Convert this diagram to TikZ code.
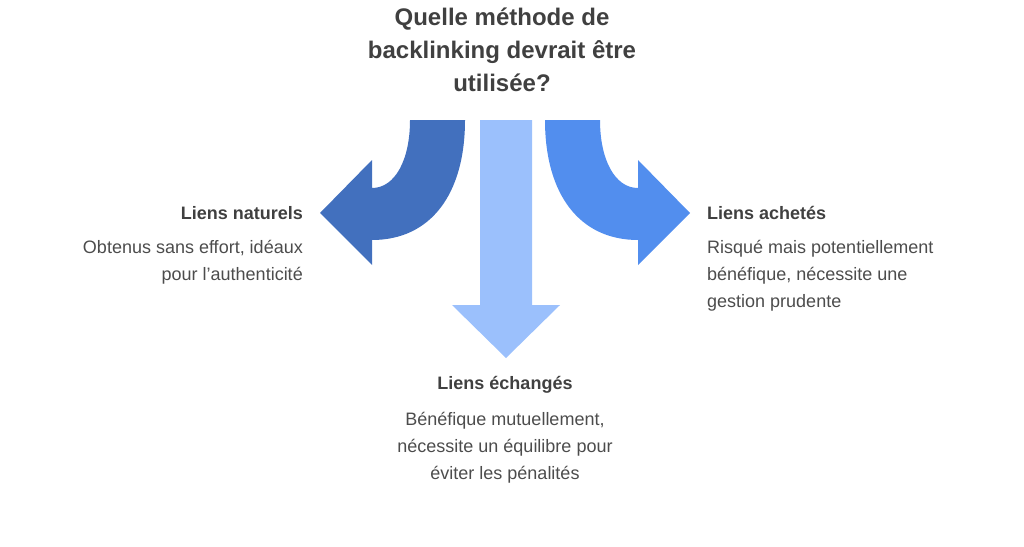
\documentclass[tikz,border=0pt]{standalone}
\usepackage{fontspec}
\setmainfont{Liberation Sans}
\begin{document}
\begin{tikzpicture}[x=1pt,y=-1pt,
  ttl/.style={font=\fontsize{24}{33}\selectfont\bfseries,text=black!75,align=center,inner sep=0},
  hd/.style={font=\fontsize{18}{27}\selectfont\bfseries,text=black!75,inner sep=0},
  ds/.style={font=\fontsize{18}{27}\selectfont,text=black!70,inner sep=0}]
\definecolor{dk}{RGB}{66,112,190}
\definecolor{br}{RGB}{82,142,238}
\definecolor{lt}{RGB}{155,192,252}
\useasboundingbox (0,0) rectangle (1024,546);
\fill[dk] (410,120) -- (465,120) .. controls (465,195) and (430,240) .. (372,240) -- (372,265) -- (320,213) -- (372,160) -- (372,188) .. controls (395,188) and (410,160) .. (410,120) -- cycle;
\fill[br] (600,120) -- (545,120) .. controls (545,195) and (580,240) .. (638,240) -- (638,265) -- (690,213) -- (638,160) -- (638,188) .. controls (615,188) and (600,160) .. (600,120) -- cycle;
\fill[lt] (480,120) -- (532,120) -- (532,305) -- (560,305) -- (506,358) -- (452,305) -- (480,305) -- cycle;
\node[ttl,anchor=north] (t) at (502,8) {Quelle méthode de\\backlinking devrait être\\utilisée?};
\node[hd,anchor=east] (n) at (303,213) {Liens naturels};
\node[ds,anchor=north east,align=right] (nd) at (303,240) {Obtenus sans effort, idéaux\\pour l'authenticité};
\node[hd,anchor=west] (a) at (707,213) {Liens achetés};
\node[ds,anchor=north west,align=left] (ad) at (707,240) {Risqué mais potentiellement\\bénéfique, nécessite une\\gestion prudente};
\node[hd,anchor=center] (e) at (505,385) {Liens échangés};
\node[ds,anchor=north,align=center] (ed) at (505,412) {Bénéfique mutuellement,\\nécessite un équilibre pour\\éviter les pénalités};
\end{tikzpicture}
\end{document}
